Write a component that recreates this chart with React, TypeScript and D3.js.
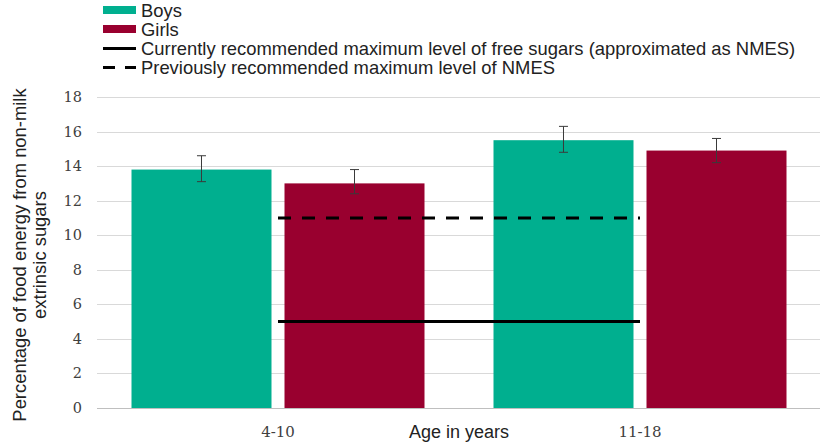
import { useEffect, useRef } from "react";
import * as d3 from "d3";

const ageGroups = ["4-10", "11-18"];
const seriesNames = ["Boys", "Girls"];
const boysValues = [13.8, 15.5];
const girlsValues = [13.0, 14.9];
const boysLow = [13.1, 14.8];
const boysHigh = [14.6, 16.3];
const girlsLow = [12.4, 14.2];
const girlsHigh = [13.8, 15.6];
const currentLevel = 5;
const previousLevel = 11;
const yTicks = [0, 2, 4, 6, 8, 10, 12, 14, 16, 18];

const colors = ["#00AF8F", "#99002F"];

export default function App() {
  const ref = useRef<SVGSVGElement | null>(null);

  useEffect(() => {
    const width = 820;
    const height = 442;
    const margin = { top: 97, right: -1, bottom: 34, left: 97 };

    const svg = d3.select(ref.current);
    svg.selectAll("*").remove();

    const x0 = d3
      .scaleBand()
      .domain(ageGroups)
      .range([margin.left, width - margin.right]);

    const x1 = d3
      .scaleBand()
      .domain(seriesNames)
      .range([34.5, x0.bandwidth() - 34.5])
      .paddingInner(0.085);

    const y = d3
      .scaleLinear()
      .domain([0, 18])
      .range([height - margin.bottom, margin.top]);

    // gridlines
    svg
      .append("g")
      .selectAll("line")
      .data(yTicks)
      .join("line")
      .attr("x1", margin.left)
      .attr("x2", width)
      .attr("y1", (d) => Math.round(y(d)) + 0.5)
      .attr("y2", (d) => Math.round(y(d)) + 0.5)
      .attr("stroke", "#D9D9D9")
      .attr("stroke-width", 1);

    // tick labels
    svg
      .append("g")
      .selectAll("text")
      .data(yTicks)
      .join("text")
      .attr("x", 82)
      .attr("y", (d) => y(d) + 5)
      .attr("text-anchor", "end")
      .attr("font-family", "DejaVu Serif")
      .attr("font-size", 14.5)
      .attr("fill", "#404040")
      .text((d) => d);

    const rows = ageGroups.map((g, i) => ({
      group: g,
      bars: [
        { name: "Boys", value: boysValues[i], lo: boysLow[i], hi: boysHigh[i] },
        { name: "Girls", value: girlsValues[i], lo: girlsLow[i], hi: girlsHigh[i] },
      ],
    }));

    const groups = svg
      .append("g")
      .selectAll("g")
      .data(rows)
      .join("g")
      .attr("transform", (d) => `translate(${x0(d.group)},0)`);

    groups
      .selectAll("rect")
      .data((d) => d.bars)
      .join("rect")
      .attr("x", (d) => x1(d.name)!)
      .attr("width", x1.bandwidth())
      .attr("y", (d) => y(d.value))
      .attr("height", (d) => y(0) - y(d.value))
      .attr("fill", (d, i) => colors[i]);

    // error bars
    const eb = groups
      .selectAll("g.err")
      .data((d) => d.bars)
      .join("g")
      .attr("class", "err")
      .attr("stroke", "#3A3A3A")
      .attr("stroke-width", 1);
    eb.append("line")
      .attr("x1", (d) => x1(d.name)! + x1.bandwidth() / 2)
      .attr("x2", (d) => x1(d.name)! + x1.bandwidth() / 2)
      .attr("y1", (d) => y(d.hi))
      .attr("y2", (d) => y(d.lo));
    eb.append("line")
      .attr("x1", (d) => x1(d.name)! + x1.bandwidth() / 2 - 4.5)
      .attr("x2", (d) => x1(d.name)! + x1.bandwidth() / 2 + 4.5)
      .attr("y1", (d) => y(d.hi))
      .attr("y2", (d) => y(d.hi));
    eb.append("line")
      .attr("x1", (d) => x1(d.name)! + x1.bandwidth() / 2 - 4.5)
      .attr("x2", (d) => x1(d.name)! + x1.bandwidth() / 2 + 4.5)
      .attr("y1", (d) => y(d.lo))
      .attr("y2", (d) => y(d.lo));

    // x axis line
    svg
      .append("line")
      .attr("x1", margin.left)
      .attr("x2", width)
      .attr("y1", Math.round(y(0)) + 0.5)
      .attr("y2", Math.round(y(0)) + 0.5)
      .attr("stroke", "#BFBFBF");

    // recommended levels
    const xa = x0(ageGroups[0])! + x0.bandwidth() / 2;
    const xb = x0(ageGroups[1])! + x0.bandwidth() / 2;
    svg
      .append("line")
      .attr("x1", xa)
      .attr("x2", xb)
      .attr("y1", y(currentLevel))
      .attr("y2", y(currentLevel))
      .attr("stroke", "#000")
      .attr("stroke-width", 3);
    svg
      .append("line")
      .attr("x1", xa)
      .attr("x2", xb)
      .attr("y1", y(previousLevel))
      .attr("y2", y(previousLevel))
      .attr("stroke", "#000")
      .attr("stroke-width", 3)
      .attr("stroke-dasharray", "13,11");

    // category labels
    svg
      .append("g")
      .selectAll("text")
      .data(ageGroups)
      .join("text")
      .attr("x", (d) => x0(d)! + x0.bandwidth() / 2)
      .attr("y", 437)
      .attr("text-anchor", "middle")
      .attr("font-family", "DejaVu Serif")
      .attr("font-size", 15)
      .attr("fill", "#404040")
      .text((d) => d);

    svg
      .append("text")
      .attr("x", 459)
      .attr("y", 438)
      .attr("text-anchor", "middle")
      .attr("font-family", "Liberation Sans")
      .attr("font-size", 18)
      .attr("fill", "#222")
      .text("Age in years");

    const yt = svg
      .append("text")
      .attr("transform", "translate(0,255) rotate(-90)")
      .attr("text-anchor", "middle")
      .attr("font-family", "Liberation Sans")
      .attr("font-size", 18.4)
      .attr("fill", "#222");
    yt.append("tspan").attr("x", 0).attr("y", 26).text("Percentage of food energy from non-milk");
    yt.append("tspan").attr("x", 0).attr("y", 46).text("extrinsic sugars");

    // legend
    const legend = svg
      .append("g")
      .attr("font-family", "Liberation Sans")
      .attr("font-size", 18.4)
      .attr("fill", "#222");
    seriesNames.forEach((s, i) => {
      legend
        .append("rect")
        .attr("x", 103)
        .attr("y", 6 + i * 19)
        .attr("width", 33)
        .attr("height", 8)
        .attr("fill", colors[i]);
      legend.append("text").attr("x", 141).attr("y", 17 + i * 19).text(s);
    });
    legend
      .append("line")
      .attr("x1", 103)
      .attr("x2", 136)
      .attr("y1", 48.5)
      .attr("y2", 48.5)
      .attr("stroke", "#000")
      .attr("stroke-width", 3);
    legend
      .append("text")
      .attr("x", 141)
      .attr("y", 55)
      .text("Currently recommended maximum level of free sugars (approximated as NMES)");
    legend
      .append("line")
      .attr("x1", 103)
      .attr("x2", 136)
      .attr("y1", 67.5)
      .attr("y2", 67.5)
      .attr("stroke", "#000")
      .attr("stroke-width", 3)
      .attr("stroke-dasharray", "12,10");
    legend
      .append("text")
      .attr("x", 141)
      .attr("y", 74)
      .text("Previously recommended maximum level of NMES");
  }, []);

  return (
    <svg
      ref={ref}
      width={820}
      height={442}
      style={{ position: "absolute", left: 0, top: 0, background: "#fff" }}
    />
  );
}
